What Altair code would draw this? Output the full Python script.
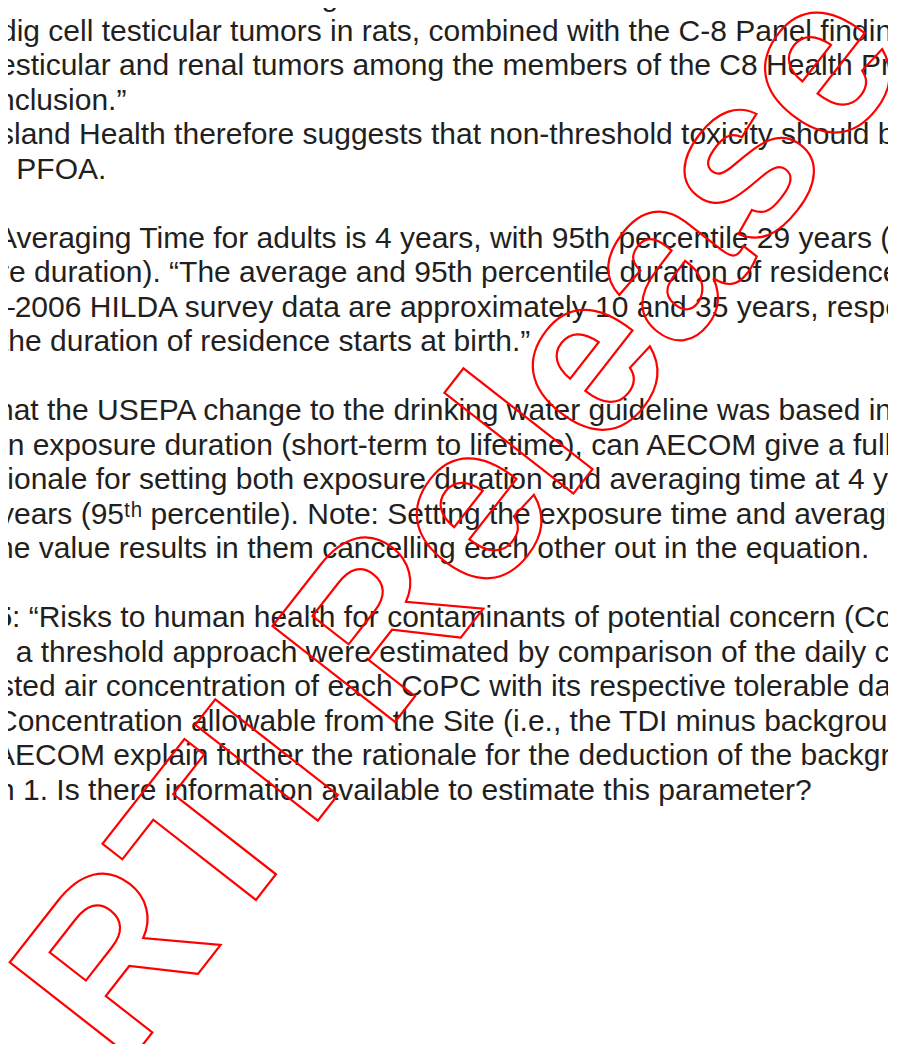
import altair as alt
import pandas as pd

# Visible text fragments of the scanned page (cropped at left/right)
lines = [
    "tive Evidence of Carcinogenic Potential of PFOA in humans. The bi",
    "dig cell testicular tumors in rats, combined with the C-8 Panel finding",
    "esticular and renal tumors among the members of the C8 Health Pro",
    "nclusion.\u201d",
    "sland Health therefore suggests that non-threshold toxicity should be",
    "r PFOA.",
    "",
    "Averaging Time for adults is 4 years, with 95th percentile 29 years (t",
    "re duration). \u201cThe average and 95th percentile duration of residence",
    "\u20132006 HILDA survey data are approximately 10 and 35 years, respe",
    "the duration of residence starts at birth.\u201d",
    "",
    "hat the USEPA change to the drinking water guideline was based in",
    "\u00a0in exposure duration (short-term to lifetime), can AECOM give a full",
    "tionale for setting both exposure duration and averaging time at 4 ye",
    "\u00a0years (95\u1d57\u02b0 percentile). Note: Setting the exposure time and averagi",
    "ne value results in them cancelling each other out in the equation.",
    "",
    ": \u201cRisks to human health for contaminants of potential concern (CoP",
    "f a threshold approach were estimated by comparison of the daily ch",
    "sted air concentration of each CoPC with its respective tolerable dai",
    "Concentration allowable from the Site (i.e., the TDI minus backgroun",
    "AECOM explain further the rationale for the deduction of the backgro",
    "n 1. Is there information available to estimate this parameter?",
]
bold_fragments = ["5"]
bold_rows = [18]
stamp_text = ["RTI Release"]

# layout (left origin of each visible fragment, in page pixels)
indent = [-2, 0, -1, -2, -1, -2, 0, -3, -1, -2, 0, 0, -3, 1, -1, -1, -3, 0,
          12, -1, -1, -4, -5, -2]

body = pd.DataFrame({"row": list(range(len(lines))), "text": lines, "x": indent})
body = body[body["text"] != ""]
bold = pd.DataFrame({"row": bold_rows, "text": bold_fragments, "x": [12]})
stamp = pd.DataFrame({"text": stamp_text})

W, H = 880, 1036
X0, Y0 = 8, 8
xs = alt.Scale(domain=[X0, X0 + W])
# row baselines: 6 + 34.5*row page px
B0, LS = 6.0, 34.5
r0 = (Y0 - B0) / LS
r1 = (Y0 + H - B0) / LS
ys = alt.Scale(domain=[r0, r1], reverse=True)

FONT = "Liberation Sans"
INK = "#231f20"

text_layer = alt.Chart(body).mark_text(
    align="left", baseline="alphabetic", font=FONT, fontSize=30, color=INK
).encode(
    x=alt.X("x:Q", scale=xs, axis=None),
    y=alt.Y("row:Q", scale=ys, axis=None),
    text="text:N",
)

bold_layer = alt.Chart(bold).mark_text(
    align="right", baseline="alphabetic", font=FONT, fontSize=30,
    fontWeight="bold", color=INK
).encode(
    x=alt.X("x:Q", scale=xs, axis=None),
    y=alt.Y("row:Q", scale=ys, axis=None),
    text="text:N",
)

stamp_layer = alt.Chart(stamp).mark_text(
    align="left", baseline="alphabetic", font=FONT, fontSize=226,
    fontWeight="bold", angle=308, stroke="#ff0000", strokeWidth=2.2,
    fill="#ffffff", fillOpacity=0
).encode(
    x=alt.value(123 - X0),
    y=alt.value(1070 - Y0),
    text="text:N",
)

chart = alt.layer(text_layer, bold_layer, stamp_layer).properties(
    width=W, height=H, padding=0, autosize="none"
).configure_view(stroke=None)

chart.save("out.html", embed_options={"renderer": "svg", "actions": False})
